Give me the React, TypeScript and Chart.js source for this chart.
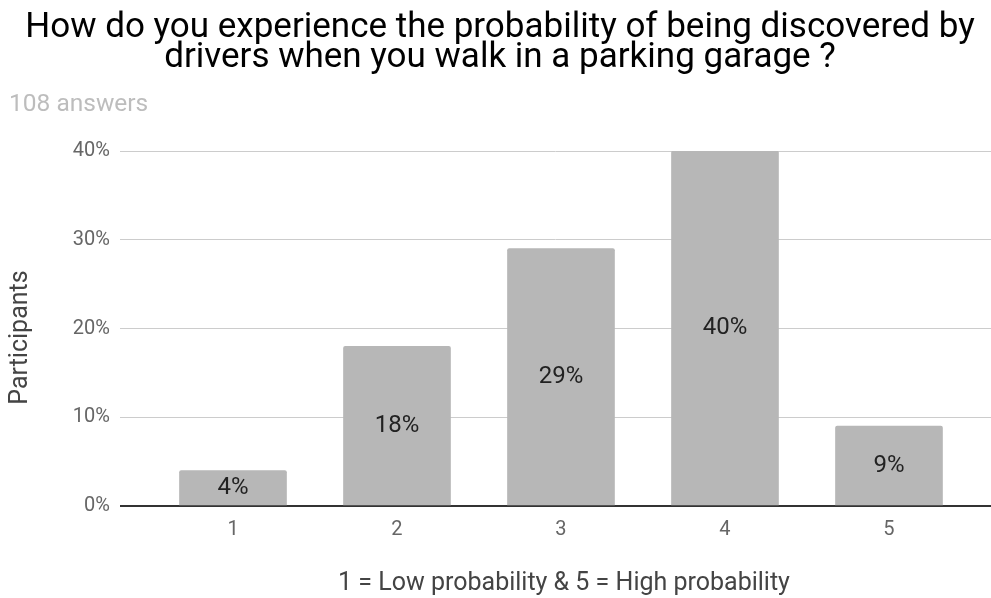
import React, { useEffect, useRef } from "react";
import { Chart, registerables } from "chart.js";

Chart.register(...registerables);

// Survey question and response summary
const titleLines = [
  "How do you experience the probability of being discovered by",
  "drivers when you walk in a parking garage ?",
];
const answerCount = "108 answers";

// Rating scale (1 = low, 5 = high) and share of participants per rating, in %
const ratings = [1, 2, 3, 4, 5];
const shares = [4, 18, 29, 40, 9];
const yTicks = [0, 10, 20, 30, 40];

const xCaption = "1 = Low probability & 5 = High probability";
const yCaption = "Participants";

const FONT = "Roboto";

// Writes each bar's percentage in the middle of the bar
const barValueLabels = {
  id: "barValueLabels",
  afterDatasetsDraw(chart: any) {
    const { ctx } = chart;
    const meta = chart.getDatasetMeta(0);
    ctx.save();
    ctx.font = `24px ${FONT}`;
    ctx.fillStyle = "#222222";
    ctx.textAlign = "center";
    ctx.textBaseline = "middle";
    meta.data.forEach((el: any, i: number) => {
      const { x, y, base } = el.getProps(["x", "y", "base"], true);
      ctx.fillText(`${shares[i]}%`, x, (y + base) / 2);
    });
    ctx.restore();
  },
};

// Axis captions below the x axis and beside the y axis
const axisCaptions = {
  id: "axisCaptions",
  afterDraw(chart: any) {
    const { ctx, chartArea } = chart;
    ctx.save();
    ctx.font = `25px ${FONT}`;
    ctx.fillStyle = "#444444";
    ctx.textAlign = "center";
    ctx.textBaseline = "middle";
    ctx.fillText(xCaption, chartArea.left + 444, chartArea.bottom + 78);
    ctx.translate(21, (chartArea.top + chartArea.bottom) / 2 + 9);
    ctx.rotate(-Math.PI / 2);
    ctx.fillText(yCaption, 0, 0);
    ctx.restore();
  },
};

export default function App() {
  const canvasRef = useRef<HTMLCanvasElement | null>(null);

  useEffect(() => {
    if (!canvasRef.current) return;
    const chart = new Chart(canvasRef.current, {
      type: "bar",
      data: {
        datasets: [
          {
            data: ratings.map((r, i) => ({ x: r, y: shares[i] })),
            backgroundColor: "#b7b7b7",
            borderWidth: 0,
            borderRadius: { topLeft: 2, topRight: 2, bottomLeft: 0, bottomRight: 0 },
            borderSkipped: "start",
            barThickness: 107,
          },
        ],
      },
      options: {
        responsive: false,
        animation: false,
        layout: { padding: { left: 9, right: 0, top: 0, bottom: 0 } },
        plugins: {
          legend: { display: false },
          tooltip: { enabled: false },
          title: {
            display: true,
            text: titleLines,
            color: "#000000",
            font: { family: FONT, size: 35, weight: "normal", lineHeight: 30 / 35 },
            padding: { top: 13, bottom: 0 },
          },
          subtitle: {
            display: true,
            text: answerCount,
            align: "start",
            color: "#bdbdbd",
            font: { family: FONT, size: 24.5, weight: "normal", lineHeight: 1.2 },
            padding: { top: 17, bottom: 31.6 },
          },
        },
        scales: {
          x: {
            type: "linear",
            offset: false,
            min: 0.311,
            max: 5.622,
            afterBuildTicks: (scale: any) => {
              scale.ticks = ratings.map((v) => ({ value: v }));
            },
            afterFit: (scale: any) => {
              scale.height = 92;
            },
            grid: { display: false, drawTicks: false, offset: false },
            border: { display: false },
            ticks: {
              color: "#666666",
              font: { family: FONT, size: 20 },
              padding: 12,
              callback: (v: any) => String(v),
            },
          },
          y: {
            min: 0,
            max: 40,
            afterBuildTicks: (scale: any) => {
              scale.ticks = yTicks.map((v) => ({ value: v }));
            },
            afterFit: (scale: any) => {
              scale.width = 111;
            },
            grid: {
              drawTicks: false,
              color: (c: any) => (c.tick && c.tick.value === 0 ? "#333333" : "#cccccc"),
              lineWidth: (c: any) => (c.tick && c.tick.value === 0 ? 2 : 1),
            },
            border: { display: false },
            ticks: {
              color: "#666666",
              font: { family: FONT, size: 20 },
              padding: 10,
              callback: (v: any) => `${v}%`,
            },
          },
        },
      },
      plugins: [barValueLabels, axisCaptions],
    });
    return () => chart.destroy();
  }, []);

  return (
    <div style={{ position: "fixed", left: 0, top: 0, width: 991, height: 598, background: "#ffffff" }}>
      <canvas ref={canvasRef} width={991} height={598} style={{ display: "block" }} />
    </div>
  );
}
